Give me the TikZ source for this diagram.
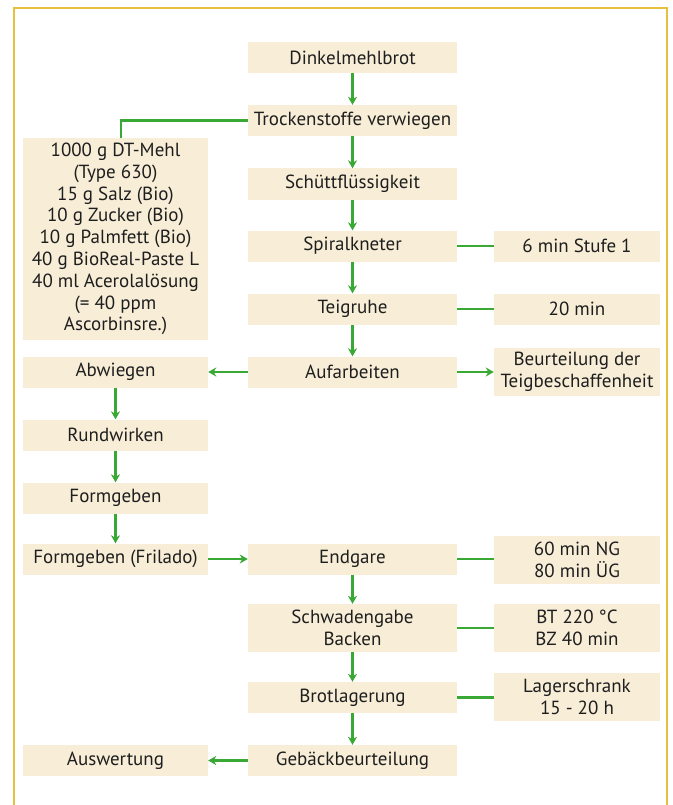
\documentclass[tikz,border=0pt]{standalone}
\usepackage{fontspec}
\setmainfont{PT Sans}
\usetikzlibrary{arrows.meta}
\definecolor{boxfill}{RGB}{248,238,216}
\definecolor{flowgreen}{RGB}{58,168,52}
\definecolor{framey}{RGB}{232,192,64}
\definecolor{txt}{RGB}{30,30,30}
\tikzset{
  bx/.style={fill=boxfill, draw=none, inner sep=0pt, align=center, text=txt,
    font=\fontsize{19}{21.8}\selectfont},
  midbox/.style={bx, minimum width=209pt, minimum height=31pt},
  leftbox/.style={bx, minimum width=185pt, minimum height=31pt},
  rightbox/.style={bx, minimum width=166pt, minimum height=31pt},
  flow/.style={draw=flowgreen, line width=2.6pt, -{Stealth[length=8pt,width=9pt,inset=2.5pt]}},
  link/.style={draw=flowgreen, line width=2.6pt},
}
\begin{document}
\begin{tikzpicture}[x=1pt,y=-1pt]
\useasboundingbox (0,0) rectangle (672,805);
\clip (0,0) rectangle (672,805);
\fill[white] (0,0) rectangle (672,805);
\draw[framey, line width=2pt] (14,8) rectangle (667,830);

% middle column
\node[midbox] (dink) at (352.5,57.5) {Dinkelmehlbrot};
\node[midbox] (trock) at (352.5,120.5) {Trockenstoffe verwiegen};
\node[midbox] (schuett) at (352.5,184) {Schüttflüssigkeit};
\node[midbox] (spiral) at (352.5,246) {Spiralkneter};
\node[midbox] (teig) at (352.5,309) {Teigruhe};
\node[midbox] (aufarb) at (352.5,372) {Aufarbeiten};
\node[midbox] (endgare) at (352.5,559) {Endgare};
\node[midbox, minimum height=48pt] (schwaden) at (352.5,628) {Schwadengabe\\Backen};
\node[midbox] (brot) at (352.5,697.5) {Brotlagerung};
\node[midbox] (gebaeck) at (352.5,760.5) {Gebäckbeurteilung};

% left column
\node[leftbox, minimum height=202pt] (zutat) at (115.5,239) {1000 g DT-Mehl\\(Type 630)\\15 g Salz (Bio)\\10 g Zucker (Bio)\\10 g Palmfett (Bio)\\40 g BioReal-Paste L\\40 ml Acerolalösung\\(= 40 ppm\\Ascorbinsre.)};
\node[leftbox] (abw) at (115.5,372) {Abwiegen};
\node[leftbox] (rund) at (115.5,435) {Rundwirken};
\node[leftbox] (form) at (115.5,498) {Formgeben};
\node[leftbox] (fril) at (115.5,559) {Formgeben (Frilado)};
\node[leftbox] (ausw) at (115.5,760.5) {Auswertung};

% right column
\node[rightbox] (stufe) at (577,246) {6 min Stufe 1};
\node[rightbox] (zwanzig) at (577,309) {20 min};
\node[rightbox, minimum height=48pt] (beurt) at (577,372) {Beurteilung der\\Teigbeschaffenheit};
\node[rightbox, minimum height=48pt] (ng) at (577,559.5) {60 min NG\\80 min ÜG};
\node[rightbox, minimum height=48pt] (bt) at (577,628) {BT 220 °C\\BZ 40 min};
\node[rightbox, minimum height=48pt] (lager) at (577,697) {Lagerschrank\\15 - 20 h};

% connectors
\draw[flow] (dink) -- (trock);
\draw[flow] (trock) -- (schuett);
\draw[link] (trock.west) -| (zutat.north -| 121,0);
\draw[flow] (schuett) -- (spiral);
\draw[flow] (spiral) -- (teig);
\draw[flow] (teig) -- (aufarb);
\draw[link] (spiral) -- (stufe);
\draw[link] (teig) -- (zwanzig);
\draw[flow] (aufarb) -- (abw);
\draw[flow] (aufarb) -- (beurt);
\draw[flow] (abw) -- (rund);
\draw[flow] (rund) -- (form);
\draw[flow] (form) -- (fril);
\draw[flow] (fril) -- (endgare);
\draw[link] (endgare) -- (endgare -| ng.west);
\draw[flow] (endgare) -- (schwaden);
\draw[link] (schwaden) -- (bt);
\draw[flow] (schwaden) -- (brot);
\draw[link] (brot) -- (brot -| lager.west);
\draw[flow] (brot) -- (gebaeck);
\draw[flow] (gebaeck) -- (ausw);
\end{tikzpicture}
\end{document}
